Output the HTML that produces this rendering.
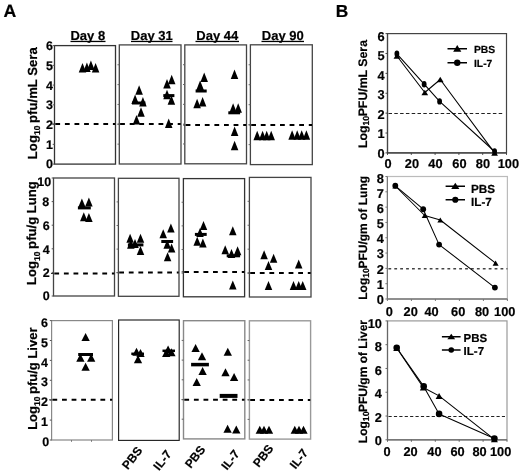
<!DOCTYPE html>
<html><head><meta charset="utf-8"><style>
html,body{margin:0;padding:0;background:#fff;}
svg{display:block;will-change:transform;}
text{font-family:"Liberation Sans", sans-serif;font-weight:bold;fill:#000;stroke:#000;stroke-width:0.2px;text-rendering:geometricPrecision;}
</style></head><body>
<svg width="520" height="472" viewBox="0 0 520 472">
<text x="3.5" y="16.9" font-size="17.7" text-anchor="start" >A</text>
<text x="335.7" y="16.7" font-size="17.4" text-anchor="start" >B</text>
<text x="87.8" y="39.8" font-size="13" text-anchor="middle" >Day 8</text>
<rect x="70.5" y="40.8" width="35.0" height="1.3" fill="#000"/>
<text x="151.8" y="39.8" font-size="13" text-anchor="middle" >Day 31</text>
<rect x="131" y="40.8" width="41.5" height="1.3" fill="#000"/>
<text x="217.3" y="39.8" font-size="13" text-anchor="middle" >Day 44</text>
<rect x="195.5" y="40.8" width="43.5" height="1.3" fill="#000"/>
<text x="282.8" y="39.8" font-size="13" text-anchor="middle" >Day 90</text>
<rect x="261.5" y="40.8" width="42.5" height="1.3" fill="#000"/>
<rect x="54.5" y="45.6" width="61.00" height="118.50" fill="none" stroke="#333" stroke-width="1.3"/>
<line x1="55.3" y1="124.0" x2="115.2" y2="124.0" stroke="#000" stroke-width="2" stroke-dasharray="4.8 4.8"/>
<line x1="52.0" y1="124.0" x2="54.5" y2="124.0" stroke="#333" stroke-width="1"/>
<line x1="52.7" y1="164.10" x2="54.5" y2="164.10" stroke="#555" stroke-width="1"/>
<line x1="52.7" y1="144.35" x2="54.5" y2="144.35" stroke="#555" stroke-width="1"/>
<line x1="52.7" y1="124.60" x2="54.5" y2="124.60" stroke="#555" stroke-width="1"/>
<line x1="52.7" y1="104.85" x2="54.5" y2="104.85" stroke="#555" stroke-width="1"/>
<line x1="52.7" y1="85.10" x2="54.5" y2="85.10" stroke="#555" stroke-width="1"/>
<line x1="52.7" y1="65.35" x2="54.5" y2="65.35" stroke="#555" stroke-width="1"/>
<line x1="52.7" y1="45.60" x2="54.5" y2="45.60" stroke="#555" stroke-width="1"/>
<rect x="119.3" y="44.9" width="61.70" height="119.10" fill="none" stroke="#444" stroke-width="1.3"/>
<line x1="120.1" y1="124.1" x2="180.7" y2="124.1" stroke="#000" stroke-width="2" stroke-dasharray="4.8 4.8"/>
<line x1="117.5" y1="124.1" x2="119.3" y2="124.1" stroke="#333" stroke-width="1"/>
<line x1="117.5" y1="144.15" x2="119.3" y2="144.15" stroke="#666" stroke-width="1"/>
<line x1="117.5" y1="124.30" x2="119.3" y2="124.30" stroke="#666" stroke-width="1"/>
<line x1="117.5" y1="104.45" x2="119.3" y2="104.45" stroke="#666" stroke-width="1"/>
<line x1="117.5" y1="84.60" x2="119.3" y2="84.60" stroke="#666" stroke-width="1"/>
<line x1="117.5" y1="64.75" x2="119.3" y2="64.75" stroke="#666" stroke-width="1"/>
<rect x="184.8" y="44.9" width="61.70" height="118.90" fill="none" stroke="#444" stroke-width="1.3"/>
<line x1="185.60000000000002" y1="125.0" x2="246.2" y2="125.0" stroke="#000" stroke-width="2" stroke-dasharray="4.8 4.8"/>
<line x1="183.0" y1="125.0" x2="184.8" y2="125.0" stroke="#333" stroke-width="1"/>
<line x1="183.0" y1="143.98" x2="184.8" y2="143.98" stroke="#666" stroke-width="1"/>
<line x1="183.0" y1="124.17" x2="184.8" y2="124.17" stroke="#666" stroke-width="1"/>
<line x1="183.0" y1="104.35" x2="184.8" y2="104.35" stroke="#666" stroke-width="1"/>
<line x1="183.0" y1="84.53" x2="184.8" y2="84.53" stroke="#666" stroke-width="1"/>
<line x1="183.0" y1="64.72" x2="184.8" y2="64.72" stroke="#666" stroke-width="1"/>
<rect x="250.4" y="44.8" width="61.90" height="119.80" fill="none" stroke="#444" stroke-width="1.3"/>
<line x1="251.20000000000002" y1="124.9" x2="312.0" y2="124.9" stroke="#000" stroke-width="2" stroke-dasharray="4.8 4.8"/>
<line x1="248.6" y1="124.9" x2="250.4" y2="124.9" stroke="#333" stroke-width="1"/>
<line x1="248.6" y1="144.63" x2="250.4" y2="144.63" stroke="#666" stroke-width="1"/>
<line x1="248.6" y1="124.67" x2="250.4" y2="124.67" stroke="#666" stroke-width="1"/>
<line x1="248.6" y1="104.70" x2="250.4" y2="104.70" stroke="#666" stroke-width="1"/>
<line x1="248.6" y1="84.73" x2="250.4" y2="84.73" stroke="#666" stroke-width="1"/>
<line x1="248.6" y1="64.77" x2="250.4" y2="64.77" stroke="#666" stroke-width="1"/>
<rect x="53.5" y="178" width="61.00" height="118.00" fill="none" stroke="#444" stroke-width="1.3"/>
<line x1="54.3" y1="273.5" x2="114.2" y2="273.5" stroke="#000" stroke-width="2" stroke-dasharray="4.8 4.8"/>
<line x1="51.0" y1="273.5" x2="53.5" y2="273.5" stroke="#333" stroke-width="1"/>
<line x1="51.7" y1="296.00" x2="53.5" y2="296.00" stroke="#555" stroke-width="1"/>
<line x1="51.7" y1="272.40" x2="53.5" y2="272.40" stroke="#555" stroke-width="1"/>
<line x1="51.7" y1="248.80" x2="53.5" y2="248.80" stroke="#555" stroke-width="1"/>
<line x1="51.7" y1="225.20" x2="53.5" y2="225.20" stroke="#555" stroke-width="1"/>
<line x1="51.7" y1="201.60" x2="53.5" y2="201.60" stroke="#555" stroke-width="1"/>
<line x1="51.7" y1="178.00" x2="53.5" y2="178.00" stroke="#555" stroke-width="1"/>
<rect x="118.4" y="178.3" width="60.60" height="118.00" fill="none" stroke="#444" stroke-width="1.3"/>
<line x1="119.2" y1="272.6" x2="178.7" y2="272.6" stroke="#000" stroke-width="2" stroke-dasharray="4.8 4.8"/>
<line x1="116.60000000000001" y1="272.6" x2="118.4" y2="272.6" stroke="#333" stroke-width="1"/>
<line x1="116.60000000000001" y1="272.70" x2="118.4" y2="272.70" stroke="#666" stroke-width="1"/>
<line x1="116.60000000000001" y1="249.10" x2="118.4" y2="249.10" stroke="#666" stroke-width="1"/>
<line x1="116.60000000000001" y1="225.50" x2="118.4" y2="225.50" stroke="#666" stroke-width="1"/>
<line x1="116.60000000000001" y1="201.90" x2="118.4" y2="201.90" stroke="#666" stroke-width="1"/>
<rect x="183.4" y="178.6" width="61.20" height="118.20" fill="none" stroke="#333" stroke-width="1.3"/>
<line x1="184.20000000000002" y1="271.9" x2="244.29999999999998" y2="271.9" stroke="#000" stroke-width="2" stroke-dasharray="4.8 4.8"/>
<line x1="181.6" y1="271.9" x2="183.4" y2="271.9" stroke="#333" stroke-width="1"/>
<line x1="181.6" y1="273.16" x2="183.4" y2="273.16" stroke="#666" stroke-width="1"/>
<line x1="181.6" y1="249.52" x2="183.4" y2="249.52" stroke="#666" stroke-width="1"/>
<line x1="181.6" y1="225.88" x2="183.4" y2="225.88" stroke="#666" stroke-width="1"/>
<line x1="181.6" y1="202.24" x2="183.4" y2="202.24" stroke="#666" stroke-width="1"/>
<rect x="249.4" y="177.4" width="61.60" height="119.60" fill="none" stroke="#444" stroke-width="1.3"/>
<line x1="250.20000000000002" y1="273.0" x2="310.7" y2="273.0" stroke="#000" stroke-width="2" stroke-dasharray="4.8 4.8"/>
<line x1="247.6" y1="273.0" x2="249.4" y2="273.0" stroke="#333" stroke-width="1"/>
<line x1="247.6" y1="273.08" x2="249.4" y2="273.08" stroke="#666" stroke-width="1"/>
<line x1="247.6" y1="249.16" x2="249.4" y2="249.16" stroke="#666" stroke-width="1"/>
<line x1="247.6" y1="225.24" x2="249.4" y2="225.24" stroke="#666" stroke-width="1"/>
<line x1="247.6" y1="201.32" x2="249.4" y2="201.32" stroke="#666" stroke-width="1"/>
<rect x="51.6" y="320.6" width="60.80" height="119.40" fill="none" stroke="#888" stroke-width="1.2"/>
<line x1="52.4" y1="399.8" x2="112.10000000000001" y2="399.8" stroke="#000" stroke-width="2" stroke-dasharray="4.8 4.8"/>
<line x1="49.1" y1="399.8" x2="51.6" y2="399.8" stroke="#333" stroke-width="1"/>
<line x1="49.800000000000004" y1="440.00" x2="51.6" y2="440.00" stroke="#555" stroke-width="1"/>
<line x1="49.800000000000004" y1="420.10" x2="51.6" y2="420.10" stroke="#555" stroke-width="1"/>
<line x1="49.800000000000004" y1="400.20" x2="51.6" y2="400.20" stroke="#555" stroke-width="1"/>
<line x1="49.800000000000004" y1="380.30" x2="51.6" y2="380.30" stroke="#555" stroke-width="1"/>
<line x1="49.800000000000004" y1="360.40" x2="51.6" y2="360.40" stroke="#555" stroke-width="1"/>
<line x1="49.800000000000004" y1="340.50" x2="51.6" y2="340.50" stroke="#555" stroke-width="1"/>
<line x1="49.800000000000004" y1="320.60" x2="51.6" y2="320.60" stroke="#555" stroke-width="1"/>
<rect x="118.6" y="320" width="60.60" height="120.40" fill="none" stroke="#222" stroke-width="1.15"/>
<rect x="183.5" y="320.7" width="61.30" height="118.20" fill="none" stroke="#888" stroke-width="1.4"/>
<line x1="184.3" y1="399.7" x2="244.5" y2="399.7" stroke="#000" stroke-width="2" stroke-dasharray="4.8 4.8"/>
<line x1="181.7" y1="399.7" x2="183.5" y2="399.7" stroke="#333" stroke-width="1"/>
<line x1="181.7" y1="419.20" x2="183.5" y2="419.20" stroke="#666" stroke-width="1"/>
<line x1="181.7" y1="399.50" x2="183.5" y2="399.50" stroke="#666" stroke-width="1"/>
<line x1="181.7" y1="379.80" x2="183.5" y2="379.80" stroke="#666" stroke-width="1"/>
<line x1="181.7" y1="360.10" x2="183.5" y2="360.10" stroke="#666" stroke-width="1"/>
<line x1="181.7" y1="340.40" x2="183.5" y2="340.40" stroke="#666" stroke-width="1"/>
<rect x="249.4" y="320.8" width="61.20" height="118.30" fill="none" stroke="#999" stroke-width="1.4"/>
<line x1="250.20000000000002" y1="399.9" x2="310.3" y2="399.9" stroke="#000" stroke-width="2" stroke-dasharray="4.8 4.8"/>
<line x1="247.6" y1="399.9" x2="249.4" y2="399.9" stroke="#333" stroke-width="1"/>
<line x1="247.6" y1="419.38" x2="249.4" y2="419.38" stroke="#666" stroke-width="1"/>
<line x1="247.6" y1="399.67" x2="249.4" y2="399.67" stroke="#666" stroke-width="1"/>
<line x1="247.6" y1="379.95" x2="249.4" y2="379.95" stroke="#666" stroke-width="1"/>
<line x1="247.6" y1="360.23" x2="249.4" y2="360.23" stroke="#666" stroke-width="1"/>
<line x1="247.6" y1="340.52" x2="249.4" y2="340.52" stroke="#666" stroke-width="1"/>
<text x="53.00" y="168.40" font-size="12.5" text-anchor="end" >0</text>
<text x="53.00" y="148.70" font-size="12.5" text-anchor="end" >1</text>
<text x="53.00" y="129.00" font-size="12.5" text-anchor="end" >2</text>
<text x="53.00" y="109.30" font-size="12.5" text-anchor="end" >3</text>
<text x="53.00" y="89.60" font-size="12.5" text-anchor="end" >4</text>
<text x="53.00" y="69.90" font-size="12.5" text-anchor="end" >5</text>
<text x="53.00" y="50.20" font-size="12.5" text-anchor="end" >6</text>
<text x="49.60" y="299.70" font-size="12.5" text-anchor="end" >0</text>
<text x="49.60" y="277.40" font-size="12.5" text-anchor="end" >2</text>
<text x="49.60" y="254.00" font-size="12.5" text-anchor="end" >4</text>
<text x="49.60" y="229.80" font-size="12.5" text-anchor="end" >6</text>
<text x="49.20" y="206.10" font-size="12.5" text-anchor="end" >8</text>
<text x="51.20" y="185.70" font-size="12.5" text-anchor="end" >10</text>
<text x="49.20" y="445.60" font-size="12.5" text-anchor="end" >0</text>
<text x="47.90" y="425.84" font-size="12.5" text-anchor="end" >1</text>
<text x="47.90" y="406.08" font-size="12.5" text-anchor="end" >2</text>
<text x="47.90" y="386.32" font-size="12.5" text-anchor="end" >3</text>
<text x="47.90" y="366.56" font-size="12.5" text-anchor="end" >4</text>
<text x="47.90" y="346.80" font-size="12.5" text-anchor="end" >5</text>
<text x="47.90" y="327.04" font-size="12.5" text-anchor="end" >6</text>
<text transform="translate(36.5,103.2) rotate(-90)" font-size="13.15" text-anchor="middle">Log<tspan font-size="8.5" dy="3.4">10</tspan><tspan dy="-3.4" dx="-1"> pfu/mL Sera</tspan></text>
<text transform="translate(36.2,233.1) rotate(-90)" font-size="13.12" text-anchor="middle">Log<tspan font-size="8.5" dy="3.4">10</tspan><tspan dy="-3.4" dx="-1"> pfu/g Lung</tspan></text>
<text transform="translate(37.0,378.7) rotate(-90)" font-size="13.0" text-anchor="middle">Log<tspan font-size="8.5" dy="3.4">10</tspan><tspan dy="-3.4" dx="-1"> pfu/g Liver</tspan></text>
<line x1="71.5" y1="440" x2="71.5" y2="441.8" stroke="#777" stroke-width="1"/>
<line x1="91.5" y1="440" x2="91.5" y2="441.8" stroke="#777" stroke-width="1"/>
<text transform="translate(136.0,445.35) rotate(-52)" font-size="12" text-anchor="end" dominant-baseline="hanging">PBS</text>
<text transform="translate(165.3,448.9) rotate(-52)" font-size="12" text-anchor="end" dominant-baseline="hanging">IL-7</text>
<text transform="translate(198.9,444.2) rotate(-52)" font-size="12" text-anchor="end" dominant-baseline="hanging">PBS</text>
<text transform="translate(233.3,448.6) rotate(-52)" font-size="12" text-anchor="end" dominant-baseline="hanging">IL-7</text>
<text transform="translate(267.1,443.2) rotate(-52)" font-size="12" text-anchor="end" dominant-baseline="hanging">PBS</text>
<text transform="translate(301.8,447.6) rotate(-52)" font-size="12" text-anchor="end" dominant-baseline="hanging">IL-7</text>
<polygon points="82.50,63.10 78.75,72.60 86.25,72.60" fill="#000"/>
<polygon points="86.90,62.50 83.15,72.00 90.65,72.00" fill="#000"/>
<polygon points="90.90,60.60 87.15,70.10 94.65,70.10" fill="#000"/>
<polygon points="95.60,63.10 91.85,72.60 99.35,72.60" fill="#000"/>
<polygon points="139.10,85.20 135.35,94.70 142.85,94.70" fill="#000"/>
<polygon points="135.10,94.40 131.35,103.90 138.85,103.90" fill="#000"/>
<polygon points="142.90,97.10 139.15,106.60 146.65,106.60" fill="#000"/>
<polygon points="141.00,107.20 137.25,116.70 144.75,116.70" fill="#000"/>
<polygon points="136.50,114.90 132.75,124.40 140.25,124.40" fill="#000"/>
<polygon points="171.70,74.80 167.95,84.30 175.45,84.30" fill="#000"/>
<polygon points="167.00,79.00 163.25,88.50 170.75,88.50" fill="#000"/>
<polygon points="167.00,89.70 163.25,99.20 170.75,99.20" fill="#000"/>
<polygon points="171.40,95.30 167.65,104.80 175.15,104.80" fill="#000"/>
<polygon points="168.70,118.60 164.95,128.10 172.45,128.10" fill="#000"/>
<polygon points="204.20,72.40 200.45,81.90 207.95,81.90" fill="#000"/>
<polygon points="200.10,80.60 196.35,90.10 203.85,90.10" fill="#000"/>
<polygon points="197.10,98.70 193.35,108.20 200.85,108.20" fill="#000"/>
<polygon points="202.60,96.90 198.85,106.40 206.35,106.40" fill="#000"/>
<polygon points="234.50,69.50 230.75,79.00 238.25,79.00" fill="#000"/>
<polygon points="233.10,103.20 229.35,112.70 236.85,112.70" fill="#000"/>
<polygon points="238.20,103.20 234.45,112.70 241.95,112.70" fill="#000"/>
<polygon points="234.60,126.60 230.85,136.10 238.35,136.10" fill="#000"/>
<polygon points="234.60,140.70 230.85,150.20 238.35,150.20" fill="#000"/>
<polygon points="257.20,130.70 253.45,140.20 260.95,140.20" fill="#000"/>
<polygon points="262.60,130.70 258.85,140.20 266.35,140.20" fill="#000"/>
<polygon points="266.70,130.70 262.95,140.20 270.45,140.20" fill="#000"/>
<polygon points="271.20,130.70 267.45,140.20 274.95,140.20" fill="#000"/>
<polygon points="292.10,130.20 288.35,139.70 295.85,139.70" fill="#000"/>
<polygon points="297.20,130.20 293.45,139.70 300.95,139.70" fill="#000"/>
<polygon points="301.70,130.20 297.95,139.70 305.45,139.70" fill="#000"/>
<polygon points="306.40,130.20 302.65,139.70 310.15,139.70" fill="#000"/>
<rect x="132.00" y="101.50" width="13.40" height="3" fill="#000"/>
<rect x="163.30" y="94.10" width="11.10" height="3" fill="#000"/>
<rect x="195.60" y="89.50" width="11.10" height="3" fill="#000"/>
<rect x="228.30" y="111.30" width="11.80" height="3" fill="#000"/>
<polygon points="81.90,198.50 78.15,207.50 85.65,207.50" fill="#000"/>
<polygon points="88.90,197.40 85.15,206.40 92.65,206.40" fill="#000"/>
<polygon points="83.80,212.30 80.05,221.30 87.55,221.30" fill="#000"/>
<polygon points="88.90,213.00 85.15,222.00 92.65,222.00" fill="#000"/>
<polygon points="130.10,233.70 126.35,242.70 133.85,242.70" fill="#000"/>
<polygon points="140.50,233.70 136.75,242.70 144.25,242.70" fill="#000"/>
<polygon points="135.00,238.90 131.25,247.90 138.75,247.90" fill="#000"/>
<polygon points="130.80,239.70 127.05,248.70 134.55,248.70" fill="#000"/>
<polygon points="140.50,246.00 136.75,255.00 144.25,255.00" fill="#000"/>
<polygon points="170.90,223.40 167.15,232.40 174.65,232.40" fill="#000"/>
<polygon points="163.20,229.30 159.45,238.30 166.95,238.30" fill="#000"/>
<polygon points="167.20,239.70 163.45,248.70 170.95,248.70" fill="#000"/>
<polygon points="171.60,243.40 167.85,252.40 175.35,252.40" fill="#000"/>
<polygon points="167.60,252.30 163.85,261.30 171.35,261.30" fill="#000"/>
<polygon points="203.50,221.10 199.75,230.10 207.25,230.10" fill="#000"/>
<polygon points="200.00,228.10 196.25,237.10 203.75,237.10" fill="#000"/>
<polygon points="197.20,236.70 193.45,245.70 200.95,245.70" fill="#000"/>
<polygon points="202.90,238.60 199.15,247.60 206.65,247.60" fill="#000"/>
<polygon points="232.80,226.20 229.05,235.20 236.55,235.20" fill="#000"/>
<polygon points="225.20,245.30 221.45,254.30 228.95,254.30" fill="#000"/>
<polygon points="231.50,249.10 227.75,258.10 235.25,258.10" fill="#000"/>
<polygon points="237.60,246.20 233.85,255.20 241.35,255.20" fill="#000"/>
<polygon points="232.80,280.60 229.05,289.60 236.55,289.60" fill="#000"/>
<polygon points="264.10,250.30 260.35,259.30 267.85,259.30" fill="#000"/>
<polygon points="273.60,253.80 269.85,262.80 277.35,262.80" fill="#000"/>
<polygon points="268.50,261.00 264.75,270.00 272.25,270.00" fill="#000"/>
<polygon points="268.50,280.90 264.75,289.90 272.25,289.90" fill="#000"/>
<polygon points="298.70,259.40 294.95,268.40 302.45,268.40" fill="#000"/>
<polygon points="293.50,280.90 289.75,289.90 297.25,289.90" fill="#000"/>
<polygon points="298.70,280.90 294.95,289.90 302.45,289.90" fill="#000"/>
<polygon points="302.70,280.90 298.95,289.90 306.45,289.90" fill="#000"/>
<rect x="77.90" y="206.40" width="12.90" height="3" fill="#000"/>
<rect x="127.90" y="243.40" width="15.50" height="3" fill="#000"/>
<rect x="161.30" y="240.00" width="11.80" height="3" fill="#000"/>
<rect x="194.90" y="232.90" width="11.80" height="3" fill="#000"/>
<rect x="226.70" y="254.30" width="13.40" height="3" fill="#000"/>
<polygon points="85.60,333.00 81.45,341.00 89.75,341.00" fill="#000"/>
<polygon points="80.40,353.80 76.25,361.80 84.55,361.80" fill="#000"/>
<polygon points="91.20,353.80 87.05,361.80 95.35,361.80" fill="#000"/>
<polygon points="85.60,362.70 81.45,370.70 89.75,370.70" fill="#000"/>
<polygon points="136.50,347.80 132.35,355.80 140.65,355.80" fill="#000"/>
<polygon points="140.50,348.90 136.35,356.90 144.65,356.90" fill="#000"/>
<polygon points="138.00,355.30 133.85,363.30 142.15,363.30" fill="#000"/>
<polygon points="168.10,345.60 163.95,353.60 172.25,353.60" fill="#000"/>
<polygon points="166.20,348.90 162.05,356.90 170.35,356.90" fill="#000"/>
<polygon points="171.40,348.30 167.25,356.30 175.55,356.30" fill="#000"/>
<polygon points="195.60,344.10 191.45,352.10 199.75,352.10" fill="#000"/>
<polygon points="202.00,352.30 197.85,360.30 206.15,360.30" fill="#000"/>
<polygon points="202.60,367.10 198.45,375.10 206.75,375.10" fill="#000"/>
<polygon points="196.70,377.90 192.55,385.90 200.85,385.90" fill="#000"/>
<polygon points="227.80,347.80 223.65,355.80 231.95,355.80" fill="#000"/>
<polygon points="225.50,368.20 221.35,376.20 229.65,376.20" fill="#000"/>
<polygon points="234.10,373.00 229.95,381.00 238.25,381.00" fill="#000"/>
<polygon points="227.60,424.80 223.45,432.80 231.75,432.80" fill="#000"/>
<polygon points="236.30,425.60 232.15,433.60 240.45,433.60" fill="#000"/>
<polygon points="259.80,425.80 255.65,433.80 263.95,433.80" fill="#000"/>
<polygon points="264.00,425.80 259.85,433.80 268.15,433.80" fill="#000"/>
<polygon points="269.00,425.80 264.85,433.80 273.15,433.80" fill="#000"/>
<polygon points="294.80,425.80 290.65,433.80 298.95,433.80" fill="#000"/>
<polygon points="299.00,425.80 294.85,433.80 303.15,433.80" fill="#000"/>
<polygon points="303.50,425.80 299.35,433.80 307.65,433.80" fill="#000"/>
<rect x="78.20" y="353.00" width="14.80" height="3" fill="#000"/>
<rect x="131.30" y="352.55" width="12.70" height="2.5" fill="#000"/>
<rect x="162.50" y="349.55" width="12.50" height="2.5" fill="#000"/>
<rect x="191.10" y="362.85" width="17.80" height="3.5" fill="#000"/>
<rect x="219.70" y="393.90" width="17.80" height="4" fill="#000"/>
<rect x="387.5" y="33.6" width="119.00" height="119.30" fill="none" stroke="#444" stroke-width="1.2"/>
<line x1="387.5" y1="33.6" x2="387.5" y2="152.9" stroke="#444" stroke-width="1.2"/>
<line x1="387.5" y1="152.9" x2="506.5" y2="152.9" stroke="#444" stroke-width="1.3"/>
<line x1="385.5" y1="152.90" x2="387.5" y2="152.90" stroke="#444" stroke-width="1"/>
<text x="384.50" y="157.60" font-size="12.8" text-anchor="end" >0</text>
<line x1="385.5" y1="133.02" x2="387.5" y2="133.02" stroke="#444" stroke-width="1"/>
<text x="384.50" y="138.10" font-size="12.8" text-anchor="end" >1</text>
<line x1="385.5" y1="113.13" x2="387.5" y2="113.13" stroke="#444" stroke-width="1"/>
<text x="384.50" y="118.60" font-size="12.8" text-anchor="end" >2</text>
<line x1="385.5" y1="93.25" x2="387.5" y2="93.25" stroke="#444" stroke-width="1"/>
<text x="384.50" y="99.10" font-size="12.8" text-anchor="end" >3</text>
<line x1="385.5" y1="73.37" x2="387.5" y2="73.37" stroke="#444" stroke-width="1"/>
<text x="384.50" y="79.60" font-size="12.8" text-anchor="end" >4</text>
<line x1="385.5" y1="53.48" x2="387.5" y2="53.48" stroke="#444" stroke-width="1"/>
<text x="384.50" y="60.10" font-size="12.8" text-anchor="end" >5</text>
<line x1="385.5" y1="33.60" x2="387.5" y2="33.60" stroke="#444" stroke-width="1"/>
<text x="384.50" y="40.60" font-size="12.8" text-anchor="end" >6</text>
<line x1="387.50" y1="152.9" x2="387.50" y2="154.9" stroke="#444" stroke-width="1"/>
<text x="388.00" y="167.70" font-size="12.8" text-anchor="middle" >0</text>
<line x1="411.30" y1="152.9" x2="411.30" y2="154.9" stroke="#444" stroke-width="1"/>
<text x="411.90" y="167.70" font-size="12.8" text-anchor="middle" >20</text>
<line x1="435.10" y1="152.9" x2="435.10" y2="154.9" stroke="#444" stroke-width="1"/>
<text x="435.40" y="167.70" font-size="12.8" text-anchor="middle" >40</text>
<line x1="458.90" y1="152.9" x2="458.90" y2="154.9" stroke="#444" stroke-width="1"/>
<text x="459.40" y="167.70" font-size="12.8" text-anchor="middle" >60</text>
<line x1="482.70" y1="152.9" x2="482.70" y2="154.9" stroke="#444" stroke-width="1"/>
<text x="482.90" y="167.70" font-size="12.8" text-anchor="middle" >80</text>
<line x1="506.50" y1="152.9" x2="506.50" y2="154.9" stroke="#444" stroke-width="1"/>
<text x="508.40" y="167.70" font-size="12.8" text-anchor="middle" >100</text>
<line x1="388.5" y1="113.5" x2="504.5" y2="113.5" stroke="#222" stroke-width="1.1" stroke-dasharray="3.5 2.3"/>
<polyline points="396.9,56 424.8,92.5 440.25,79.5 494.6,152.9" fill="none" stroke="#000" stroke-width="1.05" stroke-linejoin="round"/>
<polyline points="396.9,53.8 424.15,84.2 439.6,101.4 494.6,151.5" fill="none" stroke="#000" stroke-width="1.05" stroke-linejoin="round"/>
<polygon points="396.90,53.15 393.55,58.85 400.25,58.85" fill="#000"/>
<polygon points="424.80,89.65 421.45,95.35 428.15,95.35" fill="#000"/>
<polygon points="440.25,76.65 436.90,82.35 443.60,82.35" fill="#000"/>
<polygon points="494.60,150.05 491.25,155.75 497.95,155.75" fill="#000"/>
<ellipse cx="396.9" cy="53.8" rx="2.4" ry="3.2" fill="#000"/>
<ellipse cx="424.15" cy="84.2" rx="2.4" ry="3.2" fill="#000"/>
<ellipse cx="439.6" cy="101.4" rx="2.4" ry="3.2" fill="#000"/>
<ellipse cx="494.6" cy="151.5" rx="2.4" ry="3.2" fill="#000"/>
<line x1="447.5" y1="48.75" x2="467" y2="48.75" stroke="#000" stroke-width="1.5"/>
<polygon points="457.25,45.12 453.15,51.72 461.35,51.72" fill="#000"/>
<line x1="447.5" y1="62.75" x2="467" y2="62.75" stroke="#000" stroke-width="1.5"/>
<circle cx="457.25" cy="62.75" r="3.2" fill="#000"/>
<text x="474" y="52.75" font-size="10.3" text-anchor="start" >PBS</text>
<text x="474" y="66.75" font-size="10.3" text-anchor="start" >IL-7</text>
<text transform="translate(367,94.05) rotate(-90)" font-size="12.3" text-anchor="middle">Log<tspan font-size="8.8" dy="2.3">10</tspan><tspan dy="-2.3" dx="-0.6">PFU/mL Sera</tspan></text>
<rect x="387.4" y="176.5" width="120.00" height="122.50" fill="none" stroke="#bbb" stroke-width="1.2"/>
<line x1="387.4" y1="176.5" x2="387.4" y2="299" stroke="#777" stroke-width="1.2"/>
<line x1="387.4" y1="299" x2="507.4" y2="299" stroke="#777" stroke-width="1.3"/>
<line x1="385.4" y1="299.00" x2="387.4" y2="299.00" stroke="#777" stroke-width="1"/>
<text x="383.90" y="303.80" font-size="12.8" text-anchor="end" >0</text>
<line x1="385.4" y1="283.69" x2="387.4" y2="283.69" stroke="#777" stroke-width="1"/>
<text x="383.90" y="288.68" font-size="12.8" text-anchor="end" >1</text>
<line x1="385.4" y1="268.38" x2="387.4" y2="268.38" stroke="#777" stroke-width="1"/>
<text x="383.90" y="273.55" font-size="12.8" text-anchor="end" >2</text>
<line x1="385.4" y1="253.06" x2="387.4" y2="253.06" stroke="#777" stroke-width="1"/>
<text x="383.90" y="258.43" font-size="12.8" text-anchor="end" >3</text>
<line x1="385.4" y1="237.75" x2="387.4" y2="237.75" stroke="#777" stroke-width="1"/>
<text x="383.90" y="243.30" font-size="12.8" text-anchor="end" >4</text>
<line x1="385.4" y1="222.44" x2="387.4" y2="222.44" stroke="#777" stroke-width="1"/>
<text x="383.90" y="228.18" font-size="12.8" text-anchor="end" >5</text>
<line x1="385.4" y1="207.12" x2="387.4" y2="207.12" stroke="#777" stroke-width="1"/>
<text x="383.90" y="213.05" font-size="12.8" text-anchor="end" >6</text>
<line x1="385.4" y1="191.81" x2="387.4" y2="191.81" stroke="#777" stroke-width="1"/>
<text x="383.90" y="197.93" font-size="12.8" text-anchor="end" >7</text>
<line x1="385.4" y1="176.50" x2="387.4" y2="176.50" stroke="#777" stroke-width="1"/>
<text x="383.90" y="182.80" font-size="12.8" text-anchor="end" >8</text>
<line x1="387.40" y1="299" x2="387.40" y2="301" stroke="#777" stroke-width="1"/>
<text x="389.40" y="315.50" font-size="12.8" text-anchor="middle" >0</text>
<line x1="411.40" y1="299" x2="411.40" y2="301" stroke="#777" stroke-width="1"/>
<text x="410.70" y="315.50" font-size="12.8" text-anchor="middle" >20</text>
<line x1="435.40" y1="299" x2="435.40" y2="301" stroke="#777" stroke-width="1"/>
<text x="431.50" y="315.50" font-size="12.8" text-anchor="middle" >40</text>
<line x1="459.40" y1="299" x2="459.40" y2="301" stroke="#777" stroke-width="1"/>
<text x="458.20" y="315.50" font-size="12.8" text-anchor="middle" >60</text>
<line x1="483.40" y1="299" x2="483.40" y2="301" stroke="#777" stroke-width="1"/>
<text x="482.10" y="315.50" font-size="12.8" text-anchor="middle" >80</text>
<line x1="507.40" y1="299" x2="507.40" y2="301" stroke="#777" stroke-width="1"/>
<text x="504.80" y="315.50" font-size="12.8" text-anchor="middle" >100</text>
<line x1="388.4" y1="268.8" x2="507.4" y2="268.8" stroke="#444" stroke-width="1.4" stroke-dasharray="2.8 3.1"/>
<polyline points="395.3,186 424.7,215.5 440.3,220 495.6,263.2" fill="none" stroke="#000" stroke-width="1.05" stroke-linejoin="round"/>
<polyline points="395.3,185.8 423.2,209.2 439.1,244.6 494.9,287.6" fill="none" stroke="#000" stroke-width="1.05" stroke-linejoin="round"/>
<polygon points="395.30,183.40 392.30,188.60 398.30,188.60" fill="#000"/>
<polygon points="424.70,212.90 421.70,218.10 427.70,218.10" fill="#000"/>
<polygon points="440.30,217.40 437.30,222.60 443.30,222.60" fill="#000"/>
<polygon points="495.60,260.60 492.60,265.80 498.60,265.80" fill="#000"/>
<ellipse cx="395.3" cy="185.8" rx="2.9" ry="2.95" fill="#000"/>
<ellipse cx="423.2" cy="209.2" rx="2.9" ry="2.95" fill="#000"/>
<ellipse cx="439.1" cy="244.6" rx="2.9" ry="2.95" fill="#000"/>
<ellipse cx="494.9" cy="287.6" rx="2.9" ry="2.95" fill="#000"/>
<line x1="445.6" y1="186.25" x2="465" y2="186.25" stroke="#000" stroke-width="1.5"/>
<polygon points="455.30,182.84 451.20,189.04 459.40,189.04" fill="#000"/>
<line x1="445.6" y1="199.75" x2="465" y2="199.75" stroke="#000" stroke-width="1.5"/>
<circle cx="455.3" cy="199.75" r="3.1" fill="#000"/>
<text x="471.0" y="192.75" font-size="11.7" text-anchor="start" >PBS</text>
<text x="471.0" y="206.25" font-size="11.7" text-anchor="start" >IL-7</text>
<text transform="translate(367,237.85) rotate(-90)" font-size="12" text-anchor="middle">Log<tspan font-size="8.8" dy="2.3">10</tspan><tspan dy="-2.3" dx="-0.6">PFU/gm of Lung</tspan></text>
<rect x="387.5" y="320.9" width="119.50" height="118.90" fill="none" stroke="#999" stroke-width="1.2"/>
<line x1="387.5" y1="320.9" x2="387.5" y2="439.8" stroke="#666" stroke-width="1.2"/>
<line x1="387.5" y1="439.8" x2="507" y2="439.8" stroke="#666" stroke-width="1.3"/>
<line x1="385.5" y1="439.80" x2="387.5" y2="439.80" stroke="#666" stroke-width="1"/>
<text x="381.90" y="445.00" font-size="12.8" text-anchor="end" >0</text>
<line x1="385.5" y1="416.02" x2="387.5" y2="416.02" stroke="#666" stroke-width="1"/>
<text x="381.90" y="421.58" font-size="12.8" text-anchor="end" >2</text>
<line x1="385.5" y1="392.24" x2="387.5" y2="392.24" stroke="#666" stroke-width="1"/>
<text x="381.90" y="398.16" font-size="12.8" text-anchor="end" >4</text>
<line x1="385.5" y1="368.46" x2="387.5" y2="368.46" stroke="#666" stroke-width="1"/>
<text x="381.90" y="374.74" font-size="12.8" text-anchor="end" >6</text>
<line x1="385.5" y1="344.68" x2="387.5" y2="344.68" stroke="#666" stroke-width="1"/>
<text x="381.90" y="351.32" font-size="12.8" text-anchor="end" >8</text>
<line x1="385.5" y1="320.90" x2="387.5" y2="320.90" stroke="#666" stroke-width="1"/>
<text x="381.90" y="327.90" font-size="12.8" text-anchor="end" >10</text>
<line x1="387.50" y1="439.8" x2="387.50" y2="441.8" stroke="#666" stroke-width="1"/>
<text x="387.10" y="456.10" font-size="12.8" text-anchor="middle" >0</text>
<line x1="411.40" y1="439.8" x2="411.40" y2="441.8" stroke="#666" stroke-width="1"/>
<text x="410.50" y="456.10" font-size="12.8" text-anchor="middle" >20</text>
<line x1="435.30" y1="439.8" x2="435.30" y2="441.8" stroke="#666" stroke-width="1"/>
<text x="434.40" y="456.10" font-size="12.8" text-anchor="middle" >40</text>
<line x1="459.20" y1="439.8" x2="459.20" y2="441.8" stroke="#666" stroke-width="1"/>
<text x="457.50" y="456.10" font-size="12.8" text-anchor="middle" >60</text>
<line x1="483.10" y1="439.8" x2="483.10" y2="441.8" stroke="#666" stroke-width="1"/>
<text x="479.60" y="456.10" font-size="12.8" text-anchor="middle" >80</text>
<line x1="507.00" y1="439.8" x2="507.00" y2="441.8" stroke="#666" stroke-width="1"/>
<text x="500.60" y="456.10" font-size="12.8" text-anchor="middle" >100</text>
<line x1="388.5" y1="416.5" x2="505" y2="416.5" stroke="#222" stroke-width="1.1" stroke-dasharray="3.2 2.2"/>
<polyline points="396.7,348 423.3,387.5 439.1,395.9 494.4,439.3" fill="none" stroke="#000" stroke-width="1.05" stroke-linejoin="round"/>
<polyline points="396.7,347.8 423.7,386.4 439.1,413.9 494.4,438.6" fill="none" stroke="#000" stroke-width="1.05" stroke-linejoin="round"/>
<polygon points="396.70,345.00 393.20,351.00 400.20,351.00" fill="#000"/>
<polygon points="423.30,384.50 419.80,390.50 426.80,390.50" fill="#000"/>
<polygon points="439.10,392.90 435.60,398.90 442.60,398.90" fill="#000"/>
<polygon points="494.40,436.30 490.90,442.30 497.90,442.30" fill="#000"/>
<ellipse cx="396.7" cy="347.8" rx="3.3" ry="3.3" fill="#000"/>
<ellipse cx="423.7" cy="386.4" rx="3.3" ry="3.3" fill="#000"/>
<ellipse cx="439.1" cy="413.9" rx="3.3" ry="3.3" fill="#000"/>
<ellipse cx="494.4" cy="438.6" rx="3.3" ry="3.3" fill="#000"/>
<line x1="441.9" y1="336.75" x2="460.6" y2="336.75" stroke="#000" stroke-width="1.5"/>
<polygon points="451.25,333.67 447.35,339.27 455.15,339.27" fill="#000"/>
<line x1="441.9" y1="350" x2="460.6" y2="350" stroke="#000" stroke-width="1.5"/>
<circle cx="451.25" cy="350" r="2.8" fill="#000"/>
<text x="463.6" y="341.95" font-size="11.5" text-anchor="start" >PBS</text>
<text x="463.6" y="355.20" font-size="11.5" text-anchor="start" >IL-7</text>
<text transform="translate(367,381.60) rotate(-90)" font-size="12" text-anchor="middle">Log<tspan font-size="8.8" dy="2.3">10</tspan><tspan dy="-2.3" dx="-0.6">PFU/gm of Liver</tspan></text>
</svg>
</body></html>
